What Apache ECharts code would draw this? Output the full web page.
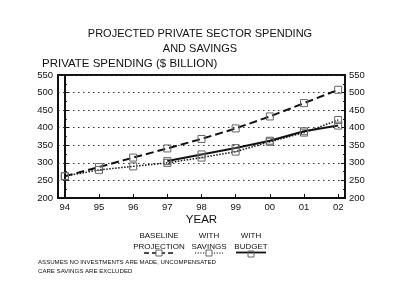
<!DOCTYPE html>
<html><head><meta charset="utf-8">
<script src="https://cdn.jsdelivr.net/npm/echarts@6/dist/echarts.min.js"></script>
<style>html,body{margin:0;padding:0;background:#fff}#c{width:400px;height:307px}</style>
</head><body><div id="c"></div>
<script>
var years = ['94','95','96','97','98','99','00','01','02'];
var baseline = [262, 288, 315, 341, 368, 398, 432, 470, 508];
var withSavings = [262, 280, 290, 300, 315, 332, 360, 386, 422];
var withBudget = [null, null, null, 305, 324, 342, 363, 390, 406];

var F = 'Liberation Sans, Arial, Helvetica, sans-serif';
function pairs(arr){ var o=[]; arr.forEach(function(v,i){ if(v!==null) o.push([i,v]); }); return o; }
var idx = years.map(function(_,i){return i;});
var sym = {symbol:'rect', symbolSize:7, itemStyle:{color:'rgba(255,255,255,0)', borderColor:'#666', borderWidth:1}};
function txt(x,y,s,size,align){ return {type:'text', x:x, y:y, style:{text:s, font:size+'px '+F, fill:'#111', align:align||'center', verticalAlign:'middle'}}; }

var chart = echarts.init(document.getElementById('c'), null, {renderer:'canvas'});
chart.setOption({
  backgroundColor:'#fff',
  animation:false,
  title:[
    {text:'PROJECTED PRIVATE SECTOR SPENDING\nAND SAVINGS', left:'center', top:21,
     textStyle:{fontFamily:F, fontSize:11, fontWeight:'normal', color:'#111', lineHeight:15}},
    {text:'PRIVATE SPENDING ($ BILLION)', left:37, top:53,
     textStyle:{fontFamily:F, fontSize:11.5, fontWeight:'normal', color:'#111'}}
  ],
  grid:{left:58, right:55, top:75, bottom:109, show:true, borderColor:'#111', borderWidth:2, backgroundColor:'transparent'},
  xAxis:{type:'value', min:-0.2, max:8.2,
    name:'YEAR', nameLocation:'middle', nameGap:16,
    nameTextStyle:{fontFamily:F, fontSize:11.5, color:'#111'},
    axisLine:{show:true, lineStyle:{color:'#111', width:2}},
    axisTick:{show:true, inside:true, length:4, customValues:idx, lineStyle:{color:'#111'}},
    axisLabel:{customValues:idx, margin:4, fontFamily:F, fontSize:9.5, color:'#111',
      formatter:function(v){ return years[Math.round(v)]; }},
    splitLine:{show:false}},
  yAxis:[
    {type:'value', min:200, max:550, interval:50, position:'left',
     axisLine:{show:true, lineStyle:{color:'#111', width:2}},
     axisTick:{show:true, inside:true, length:4, lineStyle:{color:'#111'}},
     minorTick:{show:true, splitNumber:2, length:2, lineStyle:{color:'#111'}},
     axisLabel:{margin:5, fontFamily:F, fontSize:9.5, color:'#111'},
     splitLine:{show:true, lineStyle:{color:'#333', type:[1.5,3.5], width:1.2}}},
    {type:'value', min:200, max:550, interval:50, position:'right',
     axisLine:{show:true, lineStyle:{color:'#111', width:2}},
     axisTick:{show:true, inside:true, length:4, lineStyle:{color:'#111'}},
     minorTick:{show:true, splitNumber:2, length:2, lineStyle:{color:'#111'}},
     axisLabel:{margin:4, fontFamily:F, fontSize:9.5, color:'#111'},
     splitLine:{show:false}}
  ],
  series:[
    Object.assign({type:'line', name:'BASELINE PROJECTION', data:pairs(baseline), z:3,
      lineStyle:{color:'#111', width:2, type:[8,4]}}, sym),
    Object.assign({type:'line', name:'WITH SAVINGS', data:pairs(withSavings), z:3,
      lineStyle:{color:'#111', width:1.5, type:[1.5,1.5]}}, sym),
    Object.assign({type:'line', name:'WITH BUDGET', data:pairs(withBudget), z:3,
      lineStyle:{color:'#111', width:2, type:'solid'}}, sym)
  ],
  graphic:[
    txt(159,236,'BASELINE',8), txt(159,246.5,'PROJECTION',8),
    txt(209,236,'WITH',8), txt(209,246.5,'SAVINGS',8),
    txt(251,236,'WITH',8), txt(251,246.5,'BUDGET',8),
    {type:'line', shape:{x1:144, y1:253, x2:174, y2:253}, style:{stroke:'#111', lineWidth:1.5, lineDash:[5,3]}},
    {type:'rect', shape:{x:156, y:250, width:6, height:6}, style:{fill:'#fff', stroke:'#666', lineWidth:1}},
    {type:'line', shape:{x1:195, y1:253, x2:223, y2:253}, style:{stroke:'#111', lineWidth:1.2, lineDash:[1.2,1.5]}},
    {type:'rect', shape:{x:206, y:250, width:6, height:6}, style:{fill:'#fff', stroke:'#666', lineWidth:1}},
    {type:'line', shape:{x1:236, y1:252.5, x2:266, y2:252.5}, style:{stroke:'#111', lineWidth:1.8}},
    {type:'rect', shape:{x:248, y:251, width:6, height:6}, style:{fill:'rgba(255,255,255,0)', stroke:'#666', lineWidth:1}},
    txt(38,262.5,'ASSUMES NO INVESTMENTS ARE MADE, UNCOMPENSATED',6.1,'left'),
    txt(38,271.5,'CARE SAVINGS ARE EXCLUDED',6.1,'left')
  ]
});
</script></body></html>
